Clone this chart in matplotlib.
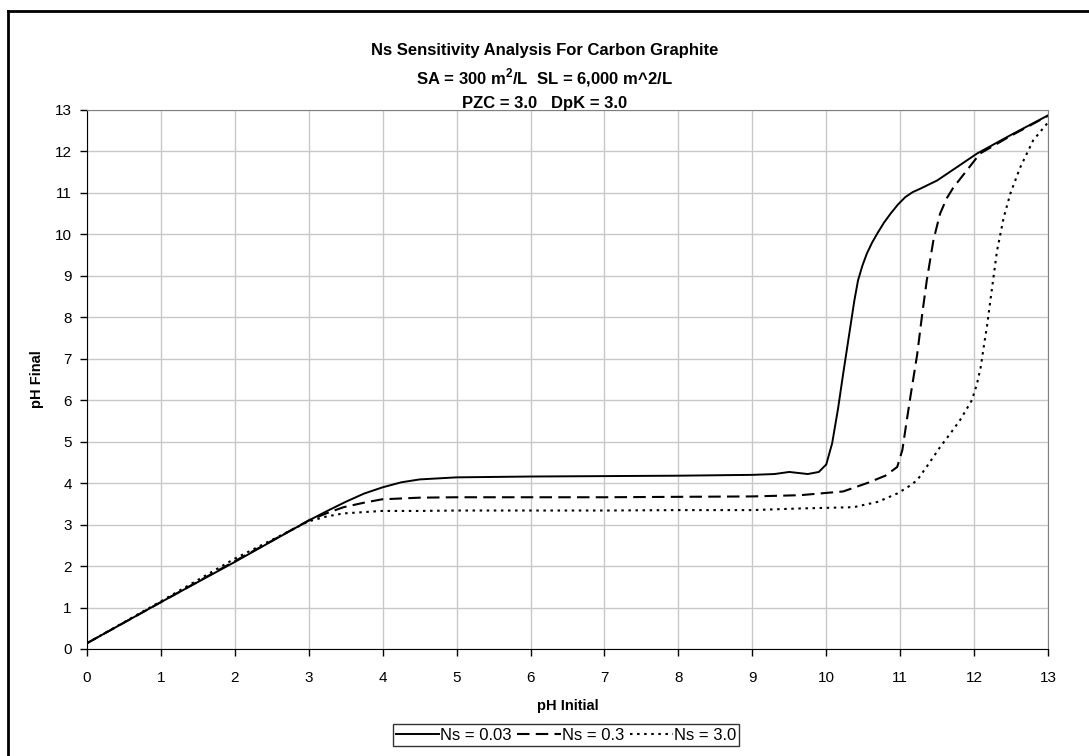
import matplotlib
matplotlib.use("Agg")
from matplotlib import pyplot as plt
from matplotlib.lines import Line2D
import numpy as np

plt.rcParams['font.family'] = ['Liberation Sans', 'DejaVu Sans']
plt.rcParams['mathtext.fontset'] = 'custom'
plt.rcParams['mathtext.rm'] = 'Liberation Sans'
plt.rcParams['mathtext.bf'] = 'Liberation Sans:bold'

# pH initial / pH final
x_003 = [0, 1, 2, 3, 3.25, 3.5, 3.75, 4, 4.25, 4.5, 5, 6, 7, 8, 9, 9.3, 9.5, 9.75, 9.9,
         10.0, 10.08, 10.16, 10.23, 10.32, 10.38, 10.43, 10.49, 10.55, 10.62, 10.69,
         10.78, 10.87, 10.97, 11.07, 11.17, 11.27, 11.5, 11.75, 12.04, 12.5, 13]
y_003 = [0.14, 1.13, 2.1, 3.1, 3.33, 3.55, 3.75, 3.9, 4.02, 4.09, 4.14, 4.16, 4.17, 4.18,
         4.2, 4.22, 4.27, 4.22, 4.27, 4.45, 4.96, 5.8, 6.65, 7.7, 8.4, 8.89, 9.25, 9.54,
         9.8, 10.02, 10.28, 10.5, 10.72, 10.9, 11.02, 11.1, 11.3, 11.6, 11.95, 12.4, 12.87]

x_03 = [0, 1, 2, 3, 3.25, 3.47, 3.75, 3.99, 4.5, 5, 6, 7, 8, 9, 9.65, 10.23, 10.55, 10.8,
        10.96, 11.03, 11.08, 11.14, 11.23, 11.3, 11.36, 11.45, 11.54, 11.63, 11.72, 11.9,
        12.08, 12.5, 13]
y_03 = [0.14, 1.13, 2.12, 3.1, 3.28, 3.42, 3.53, 3.61, 3.65, 3.66, 3.66, 3.66, 3.67, 3.68,
        3.71, 3.8, 4.0, 4.18, 4.39, 4.8, 5.4, 6.1, 7.1, 8.1, 8.89, 9.86, 10.5, 10.87,
        11.13, 11.54, 11.95, 12.38, 12.86]

x_30 = [0, 1, 2, 3, 3.25, 3.47, 3.99, 4.5, 5, 6, 7, 8, 9, 9.65, 10.37, 10.7, 10.96, 11.1,
        11.23, 11.38, 11.54, 11.68, 11.81, 11.97, 12.04, 12.09, 12.13, 12.18, 12.22, 12.31,
        12.4, 12.49, 12.62, 12.8, 13]
y_30 = [0.14, 1.15, 2.18, 3.08, 3.2, 3.27, 3.33, 3.33, 3.34, 3.34, 3.34, 3.35, 3.35, 3.39,
        3.42, 3.55, 3.75, 3.9, 4.07, 4.45, 4.87, 5.2, 5.52, 6.0, 6.4, 6.8, 7.28, 7.85, 8.4,
        9.6, 10.4, 10.98, 11.6, 12.27, 12.7]

labels = ['Ns = 0.03', 'Ns = 0.3', 'Ns = 3.0']

fig = plt.figure(figsize=(10.89, 7.56), dpi=100)
ax = fig.add_axes([87/1089, 1-649/756, (1048-87)/1089, (649-110)/756])

l1, = ax.plot(x_003, y_003, color='black', lw=1.4, ls='-')
l2, = ax.plot(x_03, y_03, color='black', lw=1.5, ls=(0, (6, 3)))
l3, = ax.plot(x_30, y_30, color='black', lw=1.5, ls=(0, (1.2, 2.2)))

ax.set_xlim(0, 13)
ax.set_ylim(0, 13)
ax.set_xticks(range(0, 14))
ax.set_yticks(range(0, 14))
ax.grid(True, color='#c8c8c8', lw=1)
ax.set_axisbelow(True)
ax.tick_params(axis='both', direction='out', length=5, width=1, labelsize=11, colors='black')
ax.tick_params(axis='x', pad=11)
ax.tick_params(axis='y', pad=6)
for s in ['top', 'right']:
    ax.spines[s].set_color('#808080')
for s in ['left', 'bottom']:
    ax.spines[s].set_color('black')

ax.set_xlabel('pH Initial', fontsize=10.5, fontweight='bold', labelpad=10)
ax.set_ylabel('pH Final', fontsize=10.5, fontweight='bold', labelpad=8)

fig.text(0.5, 1-55/756, 'Ns Sensitivity Analysis For Carbon Graphite', ha='center', va='baseline',
         fontsize=12, fontweight='bold')
fig.text(0.5, 1-84/756, r'SA = 300 m$^\mathbf{2}$/L  SL = 6,000 m^2/L', ha='center', va='baseline',
         fontsize=12, fontweight='bold')
fig.text(0.5, 1-108/756, 'PZC = 3.0   DpK = 3.0', ha='center', va='baseline',
         fontsize=12, fontweight='bold')

leg = fig.legend([l1, l2, l3], labels, loc='center', bbox_to_anchor=(566/1089, 1-735/756),
                 ncol=3, frameon=True, fancybox=False, fontsize=12, handlelength=2.6,
                 handletextpad=0.05, columnspacing=0.35, borderpad=0.2, borderaxespad=0)
leg.get_frame().set_edgecolor('black')
leg.get_frame().set_linewidth(1)

# chart area border (left and top visible, the rest runs off the picture)
fig.add_artist(Line2D([7.5/1089, 7.5/1089], [0, 1-10.5/756], color='black', lw=2, transform=fig.transFigure))
fig.add_artist(Line2D([7.5/1089, 1], [1-10.5/756, 1-10.5/756], color='black', lw=2, transform=fig.transFigure))

plt.savefig('out.png', dpi=100)
